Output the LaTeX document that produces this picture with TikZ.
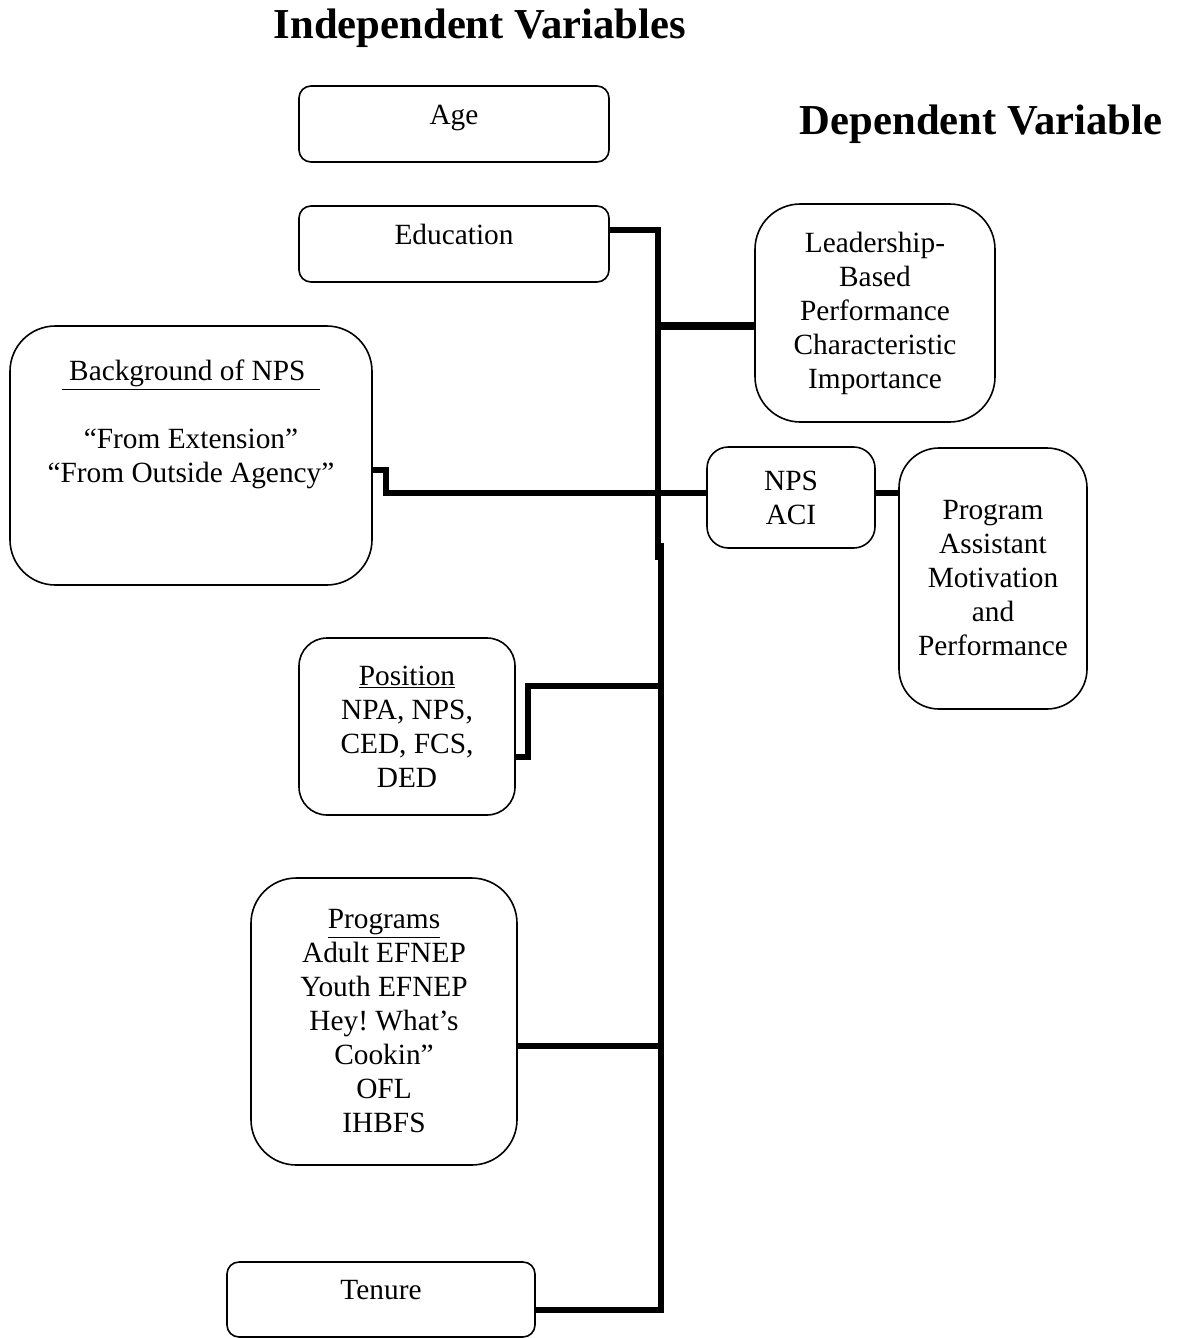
\documentclass[tikz,border=0pt]{standalone}
\usepackage{fontspec}
\setmainfont{Liberation Serif}
\usetikzlibrary{positioning}
\frenchspacing
\tikzset{
  var/.style={draw, line width=1.2pt, align=center, inner sep=2pt, outer sep=0pt,
    font=\fontsize{22}{25.5}\selectfont},
  oneline/.style={text height=5pt, text depth=5pt},
  wire/.style={line width=4.5pt},
  heading/.style={font=\fontsize{32}{38}\selectfont\bfseries}
}

\begin{document}
\begin{tikzpicture}[x=0.75pt, y=-0.75pt]
      \useasboundingbox (0,0) rectangle (1181,1338);
      \node[heading] (h1) at (480,28) {Independent Variables};
      \node[heading] (h2) at (981,124) {Dependent Variable};

      \node[var, oneline, rounded corners=9pt, minimum width=232.5pt, minimum height=57pt] (i1) at (454,124) {Age};
      \node[var, oneline, rounded corners=9pt, minimum width=232.5pt, minimum height=57pt, below=33pt of i1] (i2) {Education};
      \node[var, rounded corners=34pt, minimum width=271.5pt, minimum height=194.25pt] (i3) at (191,455.5)
        {\underline{\ Background of NPS\ \ }\\~\\“From Extension”\\“From Outside Agency”\\~\\~};
      \node[var, rounded corners=21pt, minimum width=162pt, minimum height=132.75pt] (i4) at (407,726.5)
        {\underline{Position}\\NPA, NPS,\\CED, FCS,\\DED};
      \node[var, rounded corners=34pt, minimum width=199.5pt, minimum height=215.25pt] (i5) at (384,1021.5)
        {\underline{Programs}\\Adult EFNEP\\Youth EFNEP\\Hey! What’s\\Cookin”\\OFL\\IHBFS};
      \node[var, oneline, rounded corners=9pt, minimum width=231pt, minimum height=56.25pt] (i6) at (381,1299.5) {Tenure};

      \node[var, rounded corners=34pt, minimum width=180pt, minimum height=163.5pt] (d1) at (875,313)
        {Leadership-\\Based\\Performance\\Characteristic\\Importance};
      \node[var, rounded corners=16pt, minimum width=126pt, minimum height=75.75pt] (m1) at (791,497.5) {NPS\\ACI};
      \node[var, rounded corners=30pt, minimum width=141pt, minimum height=195.75pt] (d2) at (993,578.5)
        {Program\\Assistant\\Motivation\\and\\Performance};

      \coordinate (t1) at (658,230);
      \coordinate (t2) at (658,560);
      \coordinate (t3) at (661,1310);
      \coordinate (t4) at (661,543);
      \coordinate (t5) at (658,326);
      \coordinate (t6) at (386,470);
      \coordinate (t7) at (386,493);
      \coordinate (t8) at (528,757);
      \coordinate (t9) at (528,686);
      \coordinate (t10) at (661,1046);

      \draw[wire] (i2.east |- t1) -- (t1) -- (t2);
      \draw[wire] (i6.east |- t3) -- (t3) -- (t4);
      \draw[wire, line width=6pt] (t5) -- (t5 -| d1.west);
      \draw[wire] (i3.east |- t6) -- (t6) -- (t7) -- (t7 -| m1.west);
      \draw[wire] (m1.east |- t7) -- (t7 -| d2.west);
      \draw[wire] (i4.east |- t8) -- (t8) -- (t9) -- (t9 -| t3);
      \draw[wire] (t10 -| i5.east) -- (t10);
    \end{tikzpicture}
\end{document}
